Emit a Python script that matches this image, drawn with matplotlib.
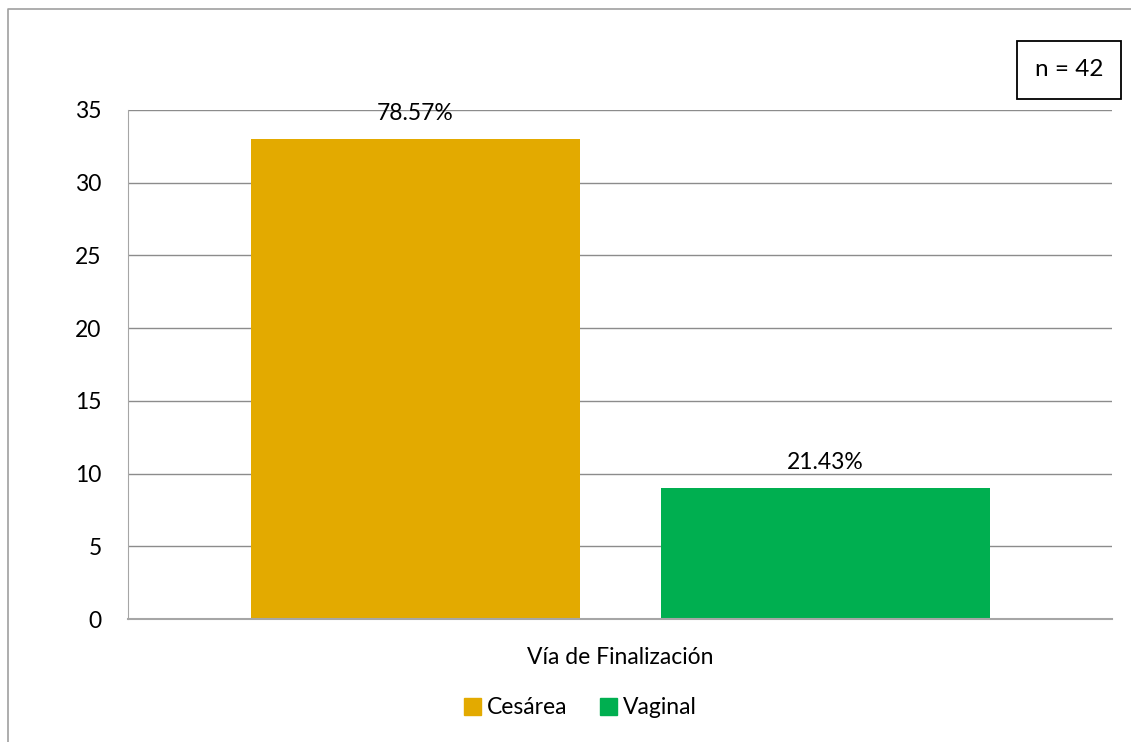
import matplotlib.pyplot as plt
from matplotlib.lines import Line2D
from matplotlib.patches import Patch

# counts per delivery route
categories = ["Cesárea", "Vaginal"]
counts = [33, 9]
total = 42
pct_labels = ["78.57%", "21.43%"]
colors = ["#E3AA00", "#00AF50"]

plt.rcParams['font.family'] = ['Lato', 'DejaVu Sans']
FS = 16.5

W, H = 1131, 742
fig = plt.figure(figsize=(W / 100, H / 100), dpi=100)
ax = fig.add_axes([128 / W, (H - 619) / H, (1112 - 128) / W, (619 - 110) / H])

x = [0, 1]
bars = ax.bar(x, counts, width=0.802, color=colors, zorder=2)
ax.set_xlim(-0.701, 1.699)
ax.set_ylim(0, 35)
ax.set_yticks(range(0, 36, 5))
ax.set_xticks([])
ax.yaxis.grid(True, color="#8c8c8c", linewidth=1, zorder=0)
ax.tick_params(axis='y', length=0, pad=19, labelsize=FS)

for s in ["top", "right"]:
    ax.spines[s].set_visible(False)
ax.spines["left"].set_color("#a6a6a6")
ax.spines["bottom"].set_color("#a6a6a6")
ax.spines["bottom"].set_linewidth(1.5)

for b, lab in zip(bars, pct_labels):
    ax.annotate(lab, (b.get_x() + b.get_width() / 2, b.get_height()),
                xytext=(0, 11), textcoords="offset points",
                ha="center", va="bottom", fontsize=FS)

ax.set_xlabel("Vía de Finalización", fontsize=FS, labelpad=20)

handles = [Patch(color=c) for c in colors]
fig.legend(handles, categories, loc="center", bbox_to_anchor=(0.513, 1 - 708 / H),
           ncol=2, frameon=False, fontsize=FS, handlelength=0.75, handleheight=0.75,
           handletextpad=0.25, columnspacing=1.4)

fig.text(1069 / W, 1 - 70 / H, "n = %d" % total, ha="center", va="center", fontsize=FS + 1,
         bbox=dict(boxstyle="square,pad=0.75", facecolor="white", edgecolor="black", linewidth=1.3))

# outer chart frame (left and top edges)
fig.add_artist(Line2D([8 / W, 8 / W, 1], [0, 1 - 9 / H, 1 - 9 / H],
                      color="#a0a0a0", linewidth=1.2, transform=fig.transFigure))

fig.savefig("out.png", dpi=100)
